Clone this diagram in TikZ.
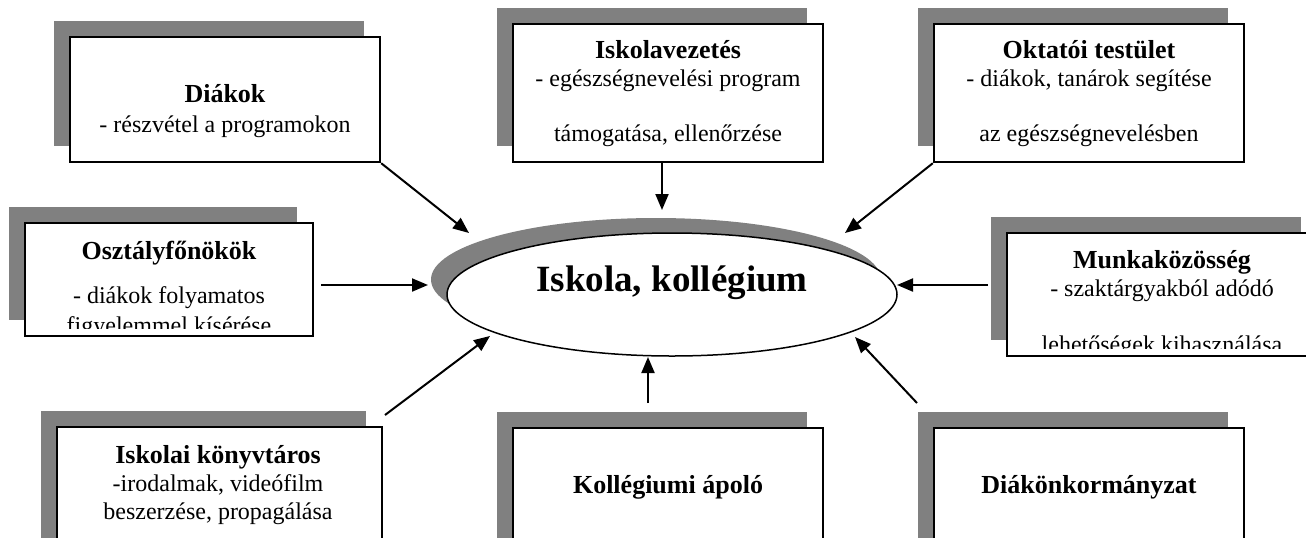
\documentclass[tikz,border=0pt]{standalone}
\usepackage{fontspec}
\setmainfont{Liberation Serif}
\usetikzlibrary{arrows.meta,
shadows,
shapes.geometric,
positioning}
\newcommand{\boxtitle}[1]{{\fontsize{13}{14}\selectfont\bfseries #1}}

\begin{document}
\begin{tikzpicture}[
  x=0.5pt, y=-0.5pt,
  every node/.style={font=\fontsize{12}{14}\selectfont},
  box/.style={draw, line width=1.2pt, fill=white, inner sep=0pt,
    minimum width=155pt,
    drop shadow={shadow xshift=-8pt, shadow yshift=8pt, opacity=1, fill=black!50}},
  txt/.style={align=center, inner sep=0pt},
  arr/.style={line width=1pt, -{Triangle[length=8pt,width=6.5pt]}}
]

  \useasboundingbox (0,0) rectangle (1306,537);

  % boxes
  \node [box, minimum height=62.5pt] (dia) at (225,99.5) {};
  \node [box, minimum height=69pt] (vez) at (668,93) {};
  \node [box, minimum height=69pt] (okt) at (1089,93) {};
  \node [
    box,
    minimum width=144pt,
    minimum height=56.5pt] (osz) at (169,279.5) {};
  \node [box, minimum height=61.5pt] (mun) at (1162,294.5) {};
  \node [
    box,
    minimum width=162.5pt,
    minimum height=69pt] (kon) at (219.5,496) {};
  \node [box, minimum height=69pt] (apo) at (668,497) {};
  \node [box, minimum height=69pt] (dko) at (1089,497) {};

  % centre
  \node [
    draw,
    ellipse,
    line width=0.75pt,
    fill=white,
    minimum width=225pt,
    minimum height=61.5pt,
    drop shadow={shadow xshift=-8pt, shadow yshift=7.5pt, opacity=1, fill=black!50}
  ] (isk) at (672,294.5) {};
  \node [txt, font=\fontsize{18.5}{20}\selectfont\bfseries] (isk-t) at (672,283) {Iskola, kollégium};

  % texts
  \node [txt] (dia-t) at (225,111.5) {\boxtitle{Diákok}\\[1pt]- részvétel a programokon};
  \node [txt] (vez-t) at (668,94) {\boxtitle{Iskolavezetés}\\[0pt]- egészségnevelési program\\[13.5pt]támogatása, ellenőrzése};
  \node [txt] (okt-t) at (1089,94) {\boxtitle{Oktatói testület}\\[0pt]- diákok, tanárok segítése\\[13.5pt]az egészségnevelésben};
  \begin{scope}
    \clip (osz.north west) rectangle ([yshift=4.5pt]osz.south east);
    \node [txt] (osz-t) at (169,290) {\boxtitle{Osztályfőnökök}\\[8pt]- diákok folyamatos\\[1pt]figyelemmel kísérése};
  \end{scope}
  \begin{scope}
    \clip (mun.north west) rectangle ([yshift=4.5pt]mun.south east);
    \node [txt] (mun-t) at (1162,304) {\boxtitle{Munkaközösség}\\- szaktárgyakból adódó\\[14pt]lehetőségek kihasználása};
  \end{scope}
  \node [txt] (kon-t) at (218,485.5) {\boxtitle{Iskolai könyvtáros}\\-irodalmak, videófilm\\beszerzése, propagálása};
  \node [txt] (apo-t) at (668,487) {\boxtitle{Kollégiumi ápoló}};
  \node [txt] (dko-t) at (1089,487) {\boxtitle{Diákönkormányzat}};

  % arrow ends
  \coordinate (t1) at (469,233);
  \coordinate (t2) at (662,210);
  \coordinate (t3) at (845,233);
  \coordinate (s4) at (321,285);
  \coordinate (t4) at (428,285);
  \coordinate (s5) at (988,285);
  \coordinate (t5) at (897,285);
  \coordinate (s6) at (385,415);
  \coordinate (t6) at (490,336);
  \coordinate (s7) at (648,403);
  \coordinate (t7) at (648,357);
  \coordinate (s8) at (917,403);
  \coordinate (t8) at (855,337);

  \draw [arr] (dia.south east) -- (t1);
  \draw [arr] ([xshift=-3pt]vez.south) -- (t2);
  \draw [arr] (okt.south west) -- (t3);
  \foreach \i in {4,5,6,7,8} {
    \draw [arr] (s\i) -- (t\i);
  }

\end{tikzpicture}
\end{document}
